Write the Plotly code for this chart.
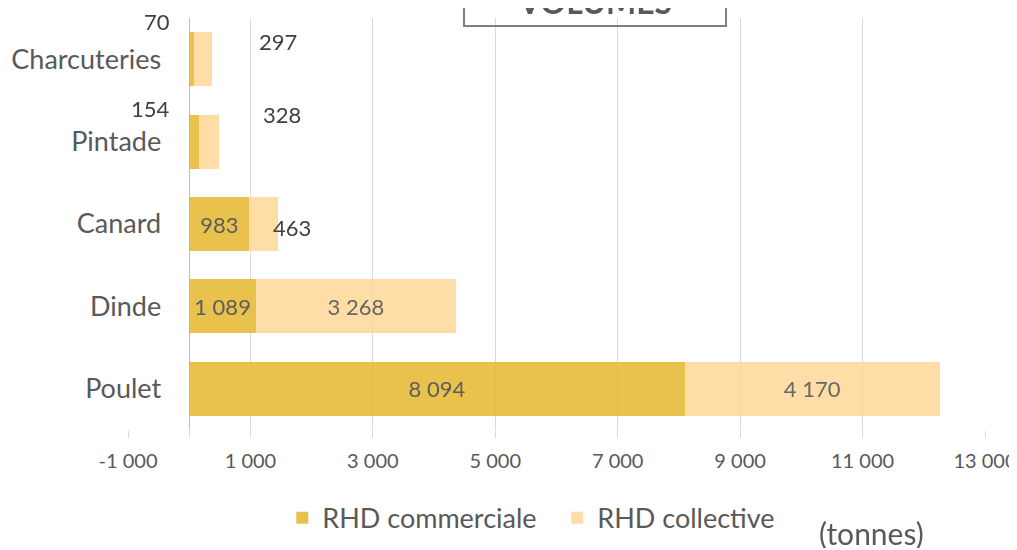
import plotly.graph_objects as go

# Volumes RHD par espece (tonnes)
categories = ["Poulet", "Dinde", "Canard", "Pintade", "Charcuteries"]
commerciale = [8094, 1089, 983, 154, 70]
collective = [4170, 3268, 463, 328, 297]

x_min, x_max = -1000, 13000
tick_vals = [-1000, 0, 1000, 3000, 5000, 7000, 9000, 11000, 13000]
tick_text = ["-1 000", "", "1 000", "3 000", "5 000", "7 000", "9 000", "11 000", "13 000"]

FONT = "Lato"
GREY = "#595959"
LABEL = "#404040"

def fmt(v):
    return f"{v:,}".replace(",", "\u00a0")

# labels shown inside the bars; the small ones are placed by hand like in the source
com_pos = ["inside", "inside", "inside", "none", "none"]
col_pos = ["inside", "inside", "none", "none", "none"]

fig = go.Figure()
fig.add_trace(go.Bar(
    y=categories, x=commerciale, orientation="h", name="RHD commerciale",
    marker=dict(color="#E4B72E", line=dict(width=0)), opacity=0.85,
    text=[fmt(v) for v in commerciale], textposition=com_pos,
    insidetextanchor="middle", constraintext="none",
    textfont=dict(family=FONT, size=22, color=LABEL), hoverinfo="skip",
))
fig.add_trace(go.Bar(
    y=categories, x=collective, orientation="h", name="RHD collective",
    marker=dict(color="#FFD591", line=dict(width=0)), opacity=0.8,
    text=[fmt(v) for v in collective], textposition=col_pos,
    insidetextanchor="middle", constraintext="none",
    textfont=dict(family=FONT, size=22, color=LABEL), hoverinfo="skip",
))

# hand-placed labels (index, xshift, yshift)
annots = []
for i, dx, dy in [(4, -17, 38), (3, -17, 33)]:
    annots.append(dict(x=0, y=categories[i], xref="x", yref="y", text=fmt(commerciale[i]),
                       showarrow=False, xanchor="right", xshift=dx, yshift=dy,
                       font=dict(family=FONT, size=22, color=LABEL)))
for i, dx, dy in [(4, 45, 18), (3, 42, 27), (2, -7, -3)]:
    annots.append(dict(x=commerciale[i] + collective[i], y=categories[i], xref="x", yref="y",
                       text=fmt(collective[i]), showarrow=False, xanchor="left",
                       xshift=dx, yshift=dy, font=dict(family=FONT, size=22, color=LABEL)))

annots.append(dict(x=0.868, y=-0.25, xref="paper", yref="paper", text="(tonnes)",
                   showarrow=False, xanchor="center", yanchor="middle",
                   font=dict(family=FONT, size=30, color=GREY)))
annots.append(dict(x=0.545, y=0.978, xref="paper", yref="paper", text="<b>VOLUMES</b>",
                   showarrow=False, xanchor="center", yanchor="bottom", width=252, borderpad=4,
                   bordercolor="#7F7F7F", borderwidth=2,
                   font=dict(family=FONT, size=32, color=GREY)))

# page body has an 8px margin, so the figure is 8px smaller than the window
fig.update_layout(
    width=1009, height=540,
    margin=dict(l=120, r=32, t=10, b=118, autoexpand=False),
    barmode="stack", bargap=0.345,
    plot_bgcolor="white", paper_bgcolor="white",
    font=dict(family=FONT, color=GREY),
    showlegend=True,
    legend=dict(orientation="h", x=0.18, y=-0.214, xanchor="left", yanchor="middle",
                entrywidth=230, font=dict(family=FONT, size=27, color=GREY),
                traceorder="normal"),
    annotations=annots,
)
fig.update_xaxes(
    range=[x_min, x_max], tickvals=tick_vals, ticktext=tick_text,
    showgrid=True, gridcolor="#D9D9D9", gridwidth=1,
    zeroline=True, zerolinecolor="#BFBFBF", zerolinewidth=1,
    ticks="outside", ticklen=7, tickcolor="#D9D9D9", automargin=False,
    ticklabelstandoff=6,
    tickfont=dict(family=FONT, size=20, color=GREY), showline=False,
)
fig.update_yaxes(
    range=[-0.5, len(categories) - 0.5],
    anchor="free", position=(0 - x_min) / (x_max - x_min), automargin=False,
    showgrid=False, zeroline=False, showline=False, ticks="",
    ticklabelstandoff=28, tickfont=dict(family=FONT, size=27, color=GREY),
)

fig.write_html("out.html")
